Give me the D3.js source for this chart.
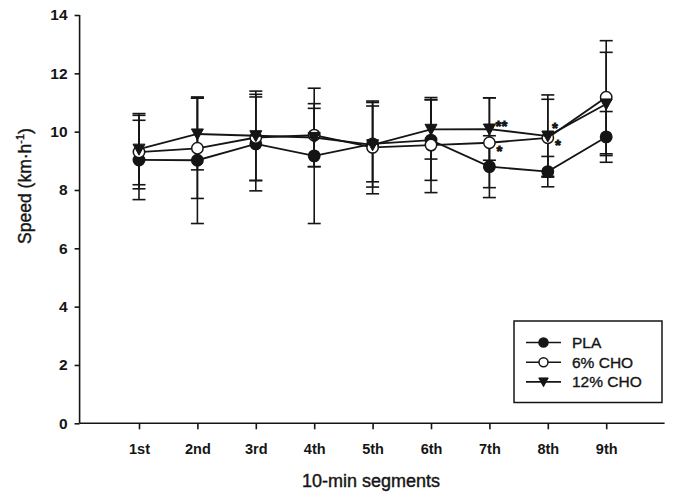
<!DOCTYPE html>
<html>
<head>
<meta charset="utf-8">
<script src="https://cdn.jsdelivr.net/npm/d3@7"></script>
<style>
  html, body { margin: 0; padding: 0; background: #fff; }
  svg { display: block; font-family: "Liberation Sans", Arial, Helvetica, sans-serif; }
</style>
</head>
<body>
<svg id="chart" width="675" height="501"></svg>
<script>
const categories = ["1st", "2nd", "3rd", "4th", "5th", "6th", "7th", "8th", "9th"];
const yTicks = [0, 2, 4, 6, 8, 10, 12, 14];

const plaMean  = [9.03, 9.02, 9.58, 9.17, 9.58, 9.71, 8.80, 8.63, 9.82];
const plaSD    = [1.36, 2.17, 1.61, 2.32, 1.30, 1.38, 1.06, 0.52, 0.87];
const cho6Mean = [9.30, 9.43, 9.80, 9.88, 9.46, 9.54, 9.62, 9.79, 11.18];
const cho6SD   = [1.26, 1.72, 1.48, 1.08, 1.59, 1.63, 1.54, 1.32, 1.94];
const cho12Mean= [9.40, 9.92, 9.86, 9.80, 9.55, 10.08, 10.09, 9.85, 10.95];
const cho12SD  = [1.22, 1.23, 1.53, 1.00, 1.45, 1.02, 1.07, 1.41, 1.77];

const seriesNames = ["PLA", "6% CHO", "12% CHO"];
// significance marks: series index, category index, label
const marks = [
  {s: 2, i: 6, t: "**", dx: 12, dy: -7},
  {s: 1, i: 6, t: "*",  dx: 10, dy: 5},
  {s: 2, i: 7, t: "*",  dx: 7,  dy: -12},
  {s: 2, i: 7, t: "*",  dx: 10, dy: 5}
];

const series = [
  {name: seriesNames[0], mean: plaMean,  sd: plaSD,  shape: "filled"},
  {name: seriesNames[1], mean: cho6Mean, sd: cho6SD, shape: "open"},
  {name: seriesNames[2], mean: cho12Mean,sd: cho12SD,shape: "triangle"}
];

const ink = "#151515";
const svg = d3.select("#chart");

const x = d3.scaleLinear().domain([0, 10]).range([80.6, 664.6]);
const y = d3.scaleLinear().domain([0, 14]).range([423.3, 15]);

// Axes
const yAxis = d3.axisLeft(y).tickValues(yTicks).tickSize(5).tickPadding(7).tickFormat(d3.format("d"));
const gy = svg.append("g").attr("transform", `translate(${x(0) - 1},0)`).call(yAxis);
gy.select(".domain").attr("d", `M0,${y(0)}V${y(14)}`);
gy.selectAll("path,line").attr("stroke", ink).attr("stroke-width", 1.6);
gy.selectAll("text").attr("fill", ink).style("font-size", "15.5px").style("font-weight", "bold");

const xAxis = d3.axisBottom(x).tickValues(d3.range(1, 10)).tickSize(6).tickPadding(14)
  .tickFormat((d) => categories[d - 1]);
const gx = svg.append("g").attr("transform", `translate(0,${y(0)})`).call(xAxis);
gx.select(".domain").attr("d", `M${x(0) - 1},0H${x(10)}`);
gx.selectAll("path,line").attr("stroke", ink).attr("stroke-width", 1.6);
gx.selectAll("text").attr("fill", ink).style("font-size", "14.5px").style("font-weight", "bold");

// Axis titles
svg.append("text").attr("x", 371).attr("y", 487).attr("text-anchor", "middle")
  .attr("fill", ink).attr("stroke", ink).attr("stroke-width", 0.4)
  .style("font-size", "18px").text("10-min segments");

const yt = svg.append("text").attr("transform", "translate(31,186) rotate(-90)")
  .attr("text-anchor", "middle").attr("fill", ink).attr("stroke", ink).attr("stroke-width", 0.4)
  .style("font-size", "17.5px");
yt.append("tspan").text("Speed (km·h");
yt.append("tspan").attr("dy", -7).style("font-size", "11px").text("-1");
yt.append("tspan").attr("dy", 7).text(")");

const plot = svg.append("g");
const capW = 6.5;

// Error bars
series.forEach((s) => {
  const g = plot.append("g");
  s.mean.forEach((m, i) => {
    const cx = x(i + 1), hi = y(m + s.sd[i]), lo = y(m - s.sd[i]);
    g.append("line").attr("x1", cx).attr("x2", cx).attr("y1", hi).attr("y2", lo)
      .attr("stroke", ink).attr("stroke-width", 1.6);
    [hi, lo].forEach((yy) => g.append("line").attr("x1", cx - capW).attr("x2", cx + capW)
      .attr("y1", yy).attr("y2", yy).attr("stroke", ink).attr("stroke-width", 1.6));
  });
});

const line = d3.line().x((d, i) => x(i + 1)).y((d) => y(d));
const tri = (cx, cy, w) => `M${cx - w / 2},${cy - w * 0.42}L${cx + w / 2},${cy - w * 0.42}L${cx},${cy + w * 0.5}Z`;

function marker(g, shape, cx, cy, r) {
  if (shape === "triangle") {
    g.append("path").attr("d", tri(cx, cy, r * 2.1)).attr("fill", ink).attr("stroke", ink).attr("stroke-width", 1);
  } else {
    g.append("circle").attr("cx", cx).attr("cy", cy).attr("r", r)
      .attr("fill", shape === "filled" ? ink : "#fff").attr("stroke", ink).attr("stroke-width", 1.5);
  }
}

series.forEach((s) => {
  const g = plot.append("g");
  g.append("path").attr("d", line(s.mean)).attr("fill", "none").attr("stroke", ink).attr("stroke-width", 1.8);
  s.mean.forEach((m, i) => marker(g, s.shape, x(i + 1), y(m), 5.7));
});

// Significance asterisks
marks.forEach((mk) => {
  const s = series[mk.s];
  svg.append("text").attr("x", x(mk.i + 1) + mk.dx).attr("y", y(s.mean[mk.i]) + mk.dy + 8.5)
    .attr("text-anchor", "middle").attr("fill", ink).attr("stroke", ink).attr("stroke-width", 0.8)
    .style("font-size", "15px").style("font-weight", "bold").text(mk.t);
});

// Legend
const lg = svg.append("g");
lg.append("rect").attr("x", 514).attr("y", 321).attr("width", 148).attr("height", 81.5)
  .attr("fill", "#fff").attr("stroke", ink).attr("stroke-width", 1.5);
series.forEach((s, k) => {
  const ly = 342.5 + k * 19.7;
  lg.append("line").attr("x1", 526).attr("x2", 561).attr("y1", ly).attr("y2", ly)
    .attr("stroke", ink).attr("stroke-width", 1.6);
  marker(lg, s.shape, 543.5, ly, 4.5);
  lg.append("text").attr("x", 572).attr("y", ly + 5.5).attr("fill", ink)
    .attr("stroke", ink).attr("stroke-width", 0.35)
    .style("font-size", "15.5px").text(s.name);
});
</script>
</body>
</html>
